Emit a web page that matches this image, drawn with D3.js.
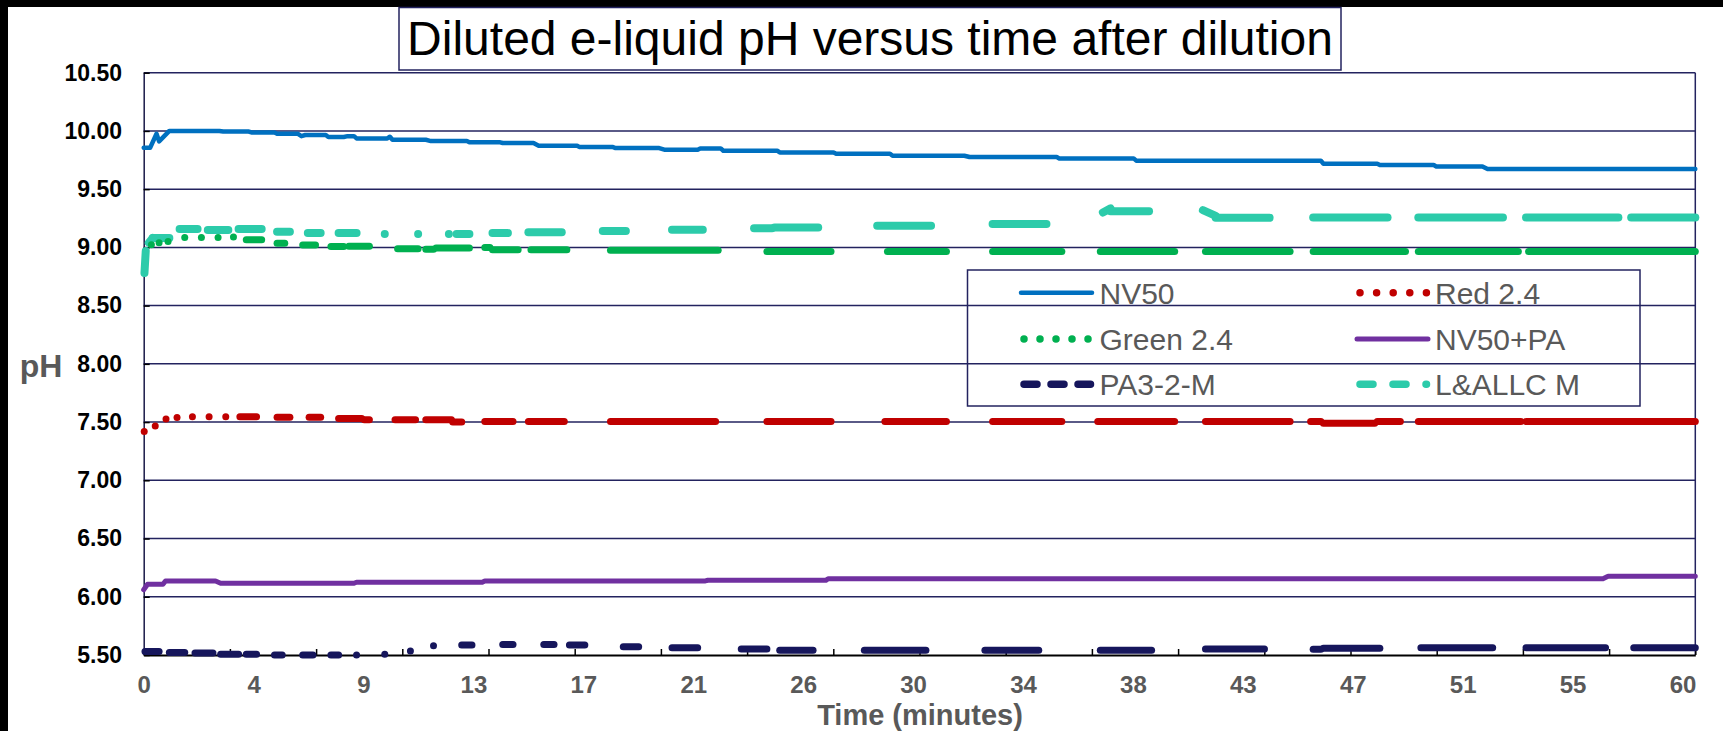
<!DOCTYPE html>
<html>
<head>
    <script src="https://d3js.org/d3.v7.min.js"></script>
    <style>
        body { margin: 0; background: #fff; }
        text { font-family: "Liberation Sans", Arial, sans-serif; }
    </style>
</head>
<body>
    <script>
        // runs: [tStart, tEnd, pH] or [tStart, tEnd, pHStart, pHEnd]
        const nv50 = [
            [0, 0.25, 9.855], [0.5, 0.5, 9.976], [0.6, 0.6, 9.91], [1.0, 2.95, 10.0],
            [3.1, 4.1, 9.995], [4.2, 5.1, 9.987], [5.2, 6.0, 9.976], [6.15, 6.15, 9.955],
            [6.3, 7.1, 9.965], [7.2, 7.8, 9.948], [7.95, 8.2, 9.955], [8.3, 9.5, 9.936],
            [9.6, 9.6, 9.95], [9.7, 11.0, 9.924], [11.2, 12.6, 9.913], [12.7, 13.9, 9.902],
            [14.0, 15.2, 9.896], [15.4, 16.9, 9.873], [17.0, 18.3, 9.861], [18.4, 20.1, 9.853],
            [20.3, 21.6, 9.839], [21.7, 22.5, 9.85], [22.6, 24.7, 9.83], [24.8, 26.9, 9.815],
            [27.0, 29.1, 9.804], [29.2, 32.0, 9.787], [32.2, 35.6, 9.776], [35.7, 38.6, 9.764],
            [38.7, 45.9, 9.745], [46.0, 48.1, 9.718], [48.2, 50.3, 9.707], [50.4, 52.2, 9.695],
            [52.4, 60.5, 9.673]
        ];
        const nv50pa = [
            [0, 0, 6.06], [0.15, 0.75, 6.107], [0.85, 2.8, 6.136], [3.0, 8.2, 6.116],
            [8.3, 13.2, 6.125], [13.3, 21.9, 6.136], [22.0, 26.6, 6.142], [26.7, 56.9, 6.155],
            [57.1, 60.5, 6.176]
        ];
        const red24 = [
            [0.02, 0.02, 7.42], [0.45, 0.45, 7.467], [0.87, 0.87, 7.527], [1.3, 1.3, 7.54],
            [1.9, 1.9, 7.545], [2.55, 2.55, 7.545], [3.2, 3.2, 7.545], [3.75, 4.4, 7.545],
            [5.2, 5.7, 7.541], [6.45, 6.9, 7.541], [7.6, 8.5, 7.53], [8.6, 8.8, 7.52],
            [9.8, 10.6, 7.52], [11.0, 12.0, 7.52], [12.05, 12.4, 7.5], [13.3, 14.4, 7.504],
            [15.0, 16.4, 7.504], [18.2, 22.3, 7.504], [24.3, 26.8, 7.504], [28.9, 31.3, 7.504],
            [33.1, 35.8, 7.504], [37.2, 40.2, 7.504], [41.4, 44.7, 7.504], [45.5, 45.9, 7.504],
            [46.0, 48.0, 7.49], [48.1, 49.0, 7.504], [49.7, 53.7, 7.504], [53.9, 60.5, 7.504]
        ];
        const green24 = [
            [0.3, 0.3, 9.022], [0.6, 0.6, 9.04], [0.95, 0.95, 9.05], [1.6, 1.6, 9.085],
            [2.25, 2.25, 9.085], [2.9, 2.9, 9.085], [3.5, 3.5, 9.09], [4.0, 4.6, 9.065],
            [5.2, 5.5, 9.035], [6.2, 6.7, 9.02], [7.3, 7.8, 9.008], [8.0, 8.8, 9.01],
            [9.9, 10.7, 8.988], [11.0, 11.3, 8.985], [11.4, 12.7, 8.995], [13.3, 13.5, 9.0],
            [13.6, 14.6, 8.98], [15.1, 16.5, 8.979], [18.2, 22.4, 8.975], [24.3, 26.8, 8.965],
            [29.0, 31.3, 8.965], [33.1, 35.8, 8.965], [37.3, 40.2, 8.965], [41.4, 44.7, 8.965],
            [45.6, 49.2, 8.965], [49.7, 53.6, 8.965], [54.0, 60.5, 8.965]
        ];
        const pa32m = [
            [0.05, 0.6, 5.53], [1.0, 1.6, 5.521], [2.0, 2.7, 5.517], [3.0, 3.7, 5.507],
            [4.0, 4.4, 5.507], [5.1, 5.4, 5.5], [6.2, 6.6, 5.5], [7.3, 7.6, 5.5],
            [8.3, 8.3, 5.5], [9.4, 9.4, 5.507], [10.4, 10.4, 5.534], [11.3, 11.3, 5.58],
            [12.4, 12.8, 5.586], [14.0, 14.4, 5.59], [15.6, 16.0, 5.59], [16.6, 17.2, 5.586],
            [18.7, 19.3, 5.571], [20.6, 21.6, 5.563], [23.3, 24.3, 5.552], [24.8, 26.1, 5.54],
            [28.1, 30.5, 5.54], [32.8, 34.9, 5.54], [37.3, 39.3, 5.54], [41.4, 43.7, 5.552],
            [45.6, 45.9, 5.55], [46.0, 48.2, 5.557], [49.8, 52.6, 5.563], [53.9, 57.0, 5.563],
            [58.1, 60.5, 5.563]
        ];
        const lallcM = [
            [0.03, 0.08, 8.78, 8.97], [0.2, 0.35, 9.04, 9.08], [0.35, 1.0, 9.08], [1.4, 2.1, 9.157],
            [2.5, 3.3, 9.15], [3.7, 4.6, 9.157], [5.2, 5.7, 9.134], [6.4, 6.9, 9.123],
            [7.6, 8.3, 9.123], [9.4, 9.4, 9.114], [10.7, 10.7, 9.114], [11.9, 11.9, 9.114],
            [12.2, 12.7, 9.114], [13.6, 14.2, 9.123], [15.0, 16.3, 9.131], [17.9, 18.8, 9.14],
            [20.6, 21.8, 9.151], [23.8, 24.5, 9.165], [24.6, 26.3, 9.171], [28.6, 30.7, 9.186],
            [33.1, 35.2, 9.2], [37.4, 37.7, 9.3, 9.335], [37.7, 39.2, 9.31], [41.3, 41.8, 9.32, 9.27],
            [41.8, 43.9, 9.255], [45.6, 48.5, 9.257], [49.7, 53.0, 9.257], [53.9, 57.5, 9.257],
            [58.0, 60.5, 9.257]
        ];

        const seriesNames = ["NV50", "Red 2.4", "Green 2.4", "NV50+PA", "PA3-2-M", "L&ALLC M"];
        const seriesRuns = [nv50, red24, green24, nv50pa, pa32m, lallcM];
        const yTicks = [5.5, 6.0, 6.5, 7.0, 7.5, 8.0, 8.5, 9.0, 9.5, 10.0, 10.5];
        const xLabels = ["0", "4", "9", "13", "17", "21", "26", "30", "34", "38", "43", "47", "51", "55", "60"];
        const tMax = 60.5;

        // styling per series
        const styles = [
            { color: "#0070c0", width: 4.5, solid: true },
            { color: "#c00000", width: 7, legend: "0 16.6" },
            { color: "#00b050", width: 7, legend: "0 16" },
            { color: "#7030a0", width: 5, solid: true },
            { color: "#16165c", width: 7, legend: "13 14" },
            { color: "#2ccbaa", width: 8, legend: "13 20" }
        ];

        const W = 1723, H = 731;
        const pLeft = 143.7, pRight = 1695.3, pTop = 72.7, pBottom = 655;
        const navy = "#23235f", gray = "#595959";

        const svg = d3.select("body").append("svg")
            .attr("width", W).attr("height", H);
        svg.append("rect").attr("width", W).attr("height", H).attr("fill", "#fff");
        // black frame strips
        svg.append("rect").attr("width", W).attr("height", 7).attr("fill", "#000");
        svg.append("rect").attr("width", 8).attr("height", H).attr("fill", "#000");

        const x = d3.scaleLinear().domain([0, tMax]).range([pLeft, pRight]);
        const y = d3.scaleLinear().domain([5.5, 10.5]).range([pBottom, pTop]);

        // gridlines
        svg.append("g").selectAll("line").data(yTicks.slice(1)).join("line")
            .attr("x1", pLeft).attr("x2", pRight)
            .attr("y1", d => y(d)).attr("y2", d => y(d))
            .attr("stroke", navy).attr("stroke-width", 1.5);
        // right border
        svg.append("line").attr("x1", pRight).attr("x2", pRight).attr("y1", pTop).attr("y2", pBottom)
            .attr("stroke", navy).attr("stroke-width", 1.5);

        // y axis
        const yAxis = svg.append("g").attr("transform", `translate(${pLeft},0)`)
            .call(d3.axisLeft(y).tickValues(yTicks).tickFormat(d3.format(".2f"))
                .tickSizeInner(-6).tickSizeOuter(0).tickPadding(21.7));
        yAxis.select(".domain").attr("stroke", "#1a1a48").attr("stroke-width", 1.5);
        yAxis.selectAll(".tick line").attr("stroke", "#000").attr("stroke-width", 1.5);
        yAxis.selectAll(".tick text").attr("font-size", 23).attr("font-weight", "bold")
            .attr("fill", "#000").style("font-family", "'Liberation Sans', Arial, sans-serif");

        // x axis: tick marks every category block, labels at their own spacing
        const tickVals = d3.range(19).map(j => j * tMax / 18);
        const xAxis = svg.append("g").attr("transform", `translate(0,${pBottom})`)
            .call(d3.axisBottom(x).tickValues(tickVals).tickFormat("")
                .tickSizeInner(-6).tickSizeOuter(0));
        xAxis.select(".domain").attr("stroke", "#000").attr("stroke-width", 2);
        xAxis.selectAll(".tick line").attr("stroke", "#000").attr("stroke-width", 1.5);

        const labelVals = xLabels.map((_, i) => i * 60 / 14);
        const xLab = svg.append("g").attr("transform", `translate(0,${pBottom})`)
            .call(d3.axisBottom(x).tickValues(labelVals).tickFormat((d, i) => xLabels[i])
                .tickSize(0).tickPadding(21));
        xLab.select(".domain").remove();
        xLab.selectAll(".tick text").attr("font-size", 24).attr("font-weight", "bold")
            .attr("fill", gray).style("font-family", "'Liberation Sans', Arial, sans-serif");

        // series
        const line = d3.line().x(d => x(d[0])).y(d => y(d[1]));
        const runPts = r => [[r[0], r[2]], [r[1], r[3] === undefined ? r[2] : r[3]]];
        const plot = svg.append("g").attr("fill", "none")
            .attr("stroke-linecap", "round").attr("stroke-linejoin", "round");

        [5, 2, 1, 4, 0, 3].forEach(k => {
            const st = styles[k], runs = seriesRuns[k];
            if (st.solid) {
                plot.append("path")
                    .attr("d", line(runs.flatMap(runPts)))
                    .attr("stroke", st.color).attr("stroke-width", st.width);
            } else {
                plot.append("g").selectAll("path").data(runs).join("path")
                    .attr("d", r => line(runPts(r)))
                    .attr("stroke", st.color).attr("stroke-width", st.width);
            }
        });

        // title box
        svg.append("rect").attr("x", 399).attr("y", 7.5).attr("width", 942).attr("height", 62.5)
            .attr("fill", "#fff").attr("stroke", navy).attr("stroke-width", 1.5);
        svg.append("text").attr("x", 870).attr("y", 55).attr("text-anchor", "middle")
            .attr("font-size", 48).attr("fill", "#000")
            .text("Diluted e-liquid pH versus time after dilution");

        // axis titles
        svg.append("text").attr("x", 41).attr("y", 377).attr("text-anchor", "middle")
            .attr("font-size", 32).attr("font-weight", "bold").attr("fill", gray).text("pH");
        svg.append("text").attr("x", 920).attr("y", 725).attr("text-anchor", "middle")
            .attr("font-size", 29).attr("font-weight", "bold").attr("fill", gray).text("Time (minutes)");

        // legend
        const lg = svg.append("g");
        lg.append("rect").attr("x", 967.5).attr("y", 270).attr("width", 672.5).attr("height", 136)
            .attr("fill", "none").attr("stroke", navy).attr("stroke-width", 1.5);
        const rowY = [292.7, 339, 384.3];
        const colX = [1024, 1360];
        const colText = [1099.5, 1435];
        seriesNames.forEach((name, i) => {
            const st = styles[i];
            const cx = colX[i % 2], cy = rowY[Math.floor(i / 2)];
            lg.append("path")
                .attr("d", `M${st.solid ? cx - 3 : cx},${cy}L${st.solid ? cx + 68 : cx + 66.5},${cy}`)
                .attr("fill", "none").attr("stroke", st.color)
                .attr("stroke-width", st.solid ? st.width : 7.5)
                .attr("stroke-linecap", "round")
                .attr("stroke-dasharray", st.legend || null);
            lg.append("text").attr("x", colText[i % 2]).attr("y", cy + 11)
                .attr("font-size", 30).attr("fill", gray).text(name);
        });
    </script>
</body>
</html>
